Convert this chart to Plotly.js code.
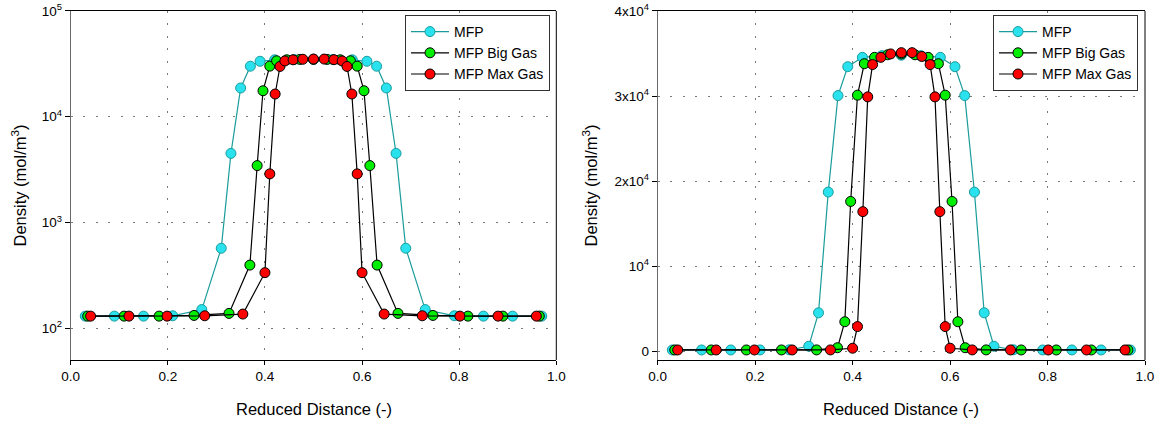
<!DOCTYPE html>
<html>
<head>
<meta charset="utf-8">
<script src="https://cdn.plot.ly/plotly-3.0.1.min.js"></script>
<style>html,body{margin:0;padding:0;background:#fff;}#chart{width:1160px;height:425px;}</style>
</head>
<body>
<div id="chart"></div>
<script>
// ---- data ----
var seriesNames = ['MFP', 'MFP Big Gas', 'MFP Max Gas'];

var xMFP = [0.03,0.09,0.15,0.21,0.27,0.31,0.33,0.35,0.37,0.39,0.42,0.46,0.50,0.54,0.58,0.61,0.63,0.65,0.67,0.69,0.73,0.79,0.85,0.91,0.97];
var yMFP = [130,130,130,131,150,570,4500,18700,30050,33450,34550,34750,34800,34750,34550,33450,30050,18700,4500,570,150,131,130,130,130];

var xBig = [0.035,0.110,0.182,0.254,0.326,0.369,0.384,0.396,0.410,0.424,0.445,0.472,0.500,0.528,0.555,0.576,0.590,0.604,0.616,0.631,0.674,0.746,0.818,0.890,0.965];
var yBig = [130,130,130,132,138,395,3450,17600,30100,33800,34550,34850,34950,34850,34550,33800,30100,17600,3450,395,138,132,130,130,130];

var xMax = [0.041,0.120,0.1985,0.276,0.3545,0.400,0.410,0.421,0.431,0.441,0.458,0.478,0.500,0.522,0.542,0.559,0.569,0.579,0.590,0.600,0.6455,0.724,0.8015,0.880,0.959];
var yMax = [130,130,130,131,136,335,2880,16400,29900,33700,34550,34950,35100,35100,34650,33700,29900,16400,2880,335,136,131,130,130,130];

var xTickVals = [0, 0.2, 0.4, 0.6, 0.8, 1.0];
var xTickText = ['0.0', '0.2', '0.4', '0.6', '0.8', '1.0'];
var logTickVals = [100, 1000, 10000, 100000];
var logTickText = ['10<sup>2</sup>', '10<sup>3</sup>', '10<sup>4</sup>', '10<sup>5</sup>'];
var linTickVals = [0, 10000, 20000, 30000, 40000];
var linTickText = ['0', '10<sup>4</sup>', '2x10<sup>4</sup>', '3x10<sup>4</sup>', '4x10<sup>4</sup>'];

var xTitle = 'Reduced Distance (-)';
var yTitle = 'Density (mol/m<sup>3</sup>)';

// ---- styles ----
var FONT = 'Liberation Sans, Arial, sans-serif';
var styles = [
  {line: '#1a9c9c', fill: '#2ae2ee', edge: '#1a9c9c'},
  {line: '#000000', fill: '#00ee00', edge: '#000000'},
  {line: '#000000', fill: '#ff0000', edge: '#000000'}
];
var xs = [xMFP, xBig, xMax];
var ys = [yMFP, yBig, yMax];

var traces = [];
[['x','y','legend'],['x2','y2','legend2']].forEach(function(ax){
  for (var i = 0; i < 3; i++) {
    traces.push({
      x: xs[i], y: ys[i], name: seriesNames[i],
      xaxis: ax[0], yaxis: ax[1], legend: ax[2],
      type: 'scatter', mode: 'lines+markers',
      line: {color: styles[i].line, width: 1.2},
      marker: {symbol: 'circle', size: 10, color: styles[i].fill, line: {color: styles[i].edge, width: 1}}
    });
  }
});

var gridDash = '2px,10.5px';
function xAxis(domain, anchor) {
  return {
    domain: domain, anchor: anchor, range: [0, 1],
    tickmode: 'array', tickvals: xTickVals, ticktext: xTickText,
    ticks: 'outside', ticklen: 4, tickcolor: '#000', tickwidth: 1,
    showline: true, linecolor: '#000', linewidth: 1, mirror: true,
    showgrid: true, gridcolor: '#7a7a7a', gridwidth: 1, griddash: gridDash,
    zeroline: false, tickfont: {family: FONT, size: 13.5, color: '#000'},
    fixedrange: true
  };
}
function yAxisBase(anchor) {
  return {
    domain: [0.15294, 0.97412], anchor: anchor,
    tickmode: 'array',
    ticks: 'outside', ticklen: 5, tickcolor: '#000', tickwidth: 1,
    showline: true, linecolor: '#6a6a6a', linewidth: 1, mirror: false,
    showgrid: true, gridcolor: '#7a7a7a', gridwidth: 1, griddash: gridDash,
    zeroline: false, tickfont: {family: FONT, size: 13.5, color: '#000'},
    fixedrange: true
  };
}

var yL = yAxisBase('x');
yL.type = 'log';
yL.range = [Math.log10(50), 5];
yL.tickvals = logTickVals; yL.ticktext = logTickText;

var yR = yAxisBase('x2');
yR.range = [-1050, 40000];
yR.tickvals = linTickVals; yR.ticktext = linTickText;

var legendBase = {
  yanchor: 'top', xanchor: 'left',
  bgcolor: '#fff', bordercolor: '#333', borderwidth: 1,
  font: {family: FONT, size: 14, color: '#000'},
  itemwidth: 38, tracegroupgap: 0
};
var leg1 = Object.assign({}, legendBase, {x: 405/1160, y: 1 - 15/425});
var leg2 = Object.assign({}, legendBase, {x: 993/1160, y: 1 - 15/425});

var layout = {
  width: 1160, height: 425,
  margin: {l: 0, r: 0, t: 0, b: 0},
  paper_bgcolor: '#fff', plot_bgcolor: '#fff',
  showlegend: true,
  xaxis: xAxis([70.7/1160, 556.3/1160], 'y'),
  yaxis: yL,
  xaxis2: xAxis([657.7/1160, 1145/1160], 'y2'),
  yaxis2: yR,
  legend: leg1, legend2: leg2,
  shapes: [
    {type: 'line', xref: 'x domain', yref: 'y domain', x0: 1, x1: 1, y0: 0, y1: 1, line: {color: '#000', width: 1}},
    {type: 'line', xref: 'x2 domain', yref: 'y2 domain', x0: 1, x1: 1, y0: 0, y1: 1, line: {color: '#000', width: 1}}
  ],
  annotations: [
    {text: xTitle, xref: 'paper', yref: 'paper', x: 313.5/1160, y: 1 - 409/425, xanchor: 'center', yanchor: 'middle', showarrow: false, font: {family: FONT, size: 16.5, color: '#000'}},
    {text: xTitle, xref: 'paper', yref: 'paper', x: 901.4/1160, y: 1 - 409/425, xanchor: 'center', yanchor: 'middle', showarrow: false, font: {family: FONT, size: 16.5, color: '#000'}},
    {text: yTitle, xref: 'paper', yref: 'paper', x: 19/1160, y: 1 - 185.5/425, xanchor: 'center', yanchor: 'middle', textangle: -90, showarrow: false, font: {family: FONT, size: 16.5, color: '#000'}},
    {text: yTitle, xref: 'paper', yref: 'paper', x: 590/1160, y: 1 - 185.5/425, xanchor: 'center', yanchor: 'middle', textangle: -90, showarrow: false, font: {family: FONT, size: 16.5, color: '#000'}}
  ]
};

Plotly.newPlot('chart', traces, layout, {displayModeBar: false, staticPlot: true});
</script>
</body>
</html>
